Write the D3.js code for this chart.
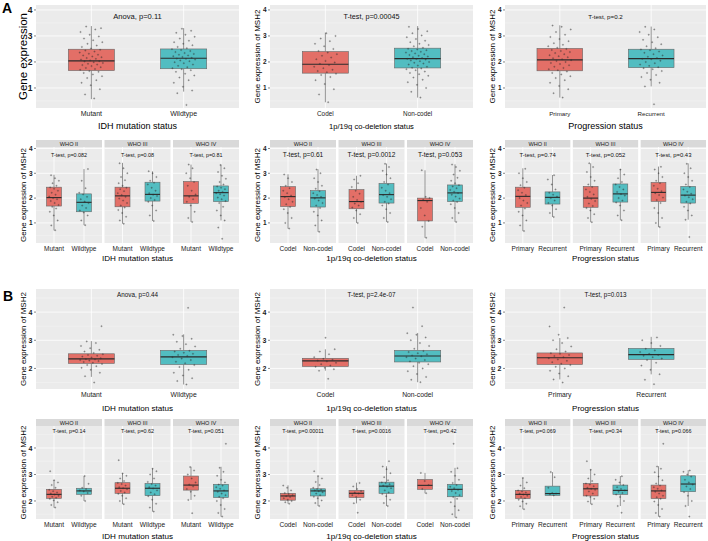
<!DOCTYPE html>
<html><head><meta charset="utf-8">
<script src="https://cdn.jsdelivr.net/npm/d3@7/dist/d3.min.js"></script>
<style>body{margin:0;background:#fff}svg{display:block}text{font-family:"Liberation Sans",Arial,sans-serif}</style>
</head><body><svg id="c" width="708" height="541"></svg>
<script>
// ---------- categories & labels ----------
const idhCats = ["Mutant", "Wildtype"];
const codelCats = ["Codel", "Non-codel"];
const progCats = ["Primary", "Recurrent"];
const whoGrades = ["WHO II", "WHO III", "WHO IV"];
const ticksA = [1, 2, 3, 4];
const ticksB = [2, 3, 4];

// ---------- box stats: [lower whisker, Q1, median, Q3, upper whisker] ----------
const A_idh_box = [[0.57, 1.67, 2.04, 2.49, 3.38], [0.86, 1.74, 2.14, 2.50, 3.30]];
const A_codel_box = [[0.45, 1.57, 1.91, 2.40, 3.13], [0.63, 1.77, 2.13, 2.53, 3.38]];
const A_prog_box = [[0.63, 1.66, 2.08, 2.52, 3.41], [1.06, 1.78, 2.13, 2.49, 3.36]];
const A_idhWho_box = [
  [[0.70, 1.68, 2.02, 2.44, 2.94], [0.91, 1.45, 1.83, 2.17, 3.17]],
  [[0.97, 1.65, 2.09, 2.44, 3.42], [1.08, 1.88, 2.15, 2.64, 3.08]],
  [[1.04, 1.79, 2.09, 2.67, 3.35], [1.10, 1.86, 2.22, 2.49, 3.35]]];
const A_codelWho_box = [
  [[0.77, 1.66, 2.06, 2.46, 2.96], [0.64, 1.64, 2.01, 2.30, 3.16]],
  [[1.00, 1.57, 1.86, 2.34, 2.90], [1.04, 1.80, 2.14, 2.59, 3.39]],
  [[0.40, 1.08, 1.90, 2.00, 3.12], [1.04, 1.86, 2.21, 2.53, 3.36]]];
const A_progWho_box = [
  [[0.67, 1.63, 2.07, 2.44, 3.20], [1.24, 1.76, 2.03, 2.25, 2.93]],
  [[1.03, 1.63, 2.00, 2.47, 3.40], [1.11, 1.84, 2.17, 2.57, 3.17]],
  [[0.83, 1.87, 2.23, 2.63, 3.27], [1.13, 1.80, 2.12, 2.47, 3.40]]];
const B_idh_box = [[1.70, 2.18, 2.34, 2.52, 2.97], [1.43, 2.14, 2.41, 2.64, 3.21]];
const B_codel_box = [[1.92, 2.07, 2.27, 2.36, 2.68], [1.51, 2.23, 2.44, 2.64, 3.26]];
const B_prog_box = [[1.61, 2.14, 2.38, 2.55, 3.08], [1.79, 2.32, 2.49, 2.71, 3.12]];
const B_idhWho_box = [
  [[1.75, 2.10, 2.25, 2.44, 2.79], [2.00, 2.25, 2.38, 2.48, 2.94]],
  [[1.88, 2.29, 2.48, 2.69, 3.04], [1.60, 2.20, 2.48, 2.66, 3.23]],
  [[2.04, 2.41, 2.60, 2.94, 3.29], [1.41, 2.13, 2.38, 2.63, 3.29]]];
const B_codelWho_box = [
  [[1.90, 2.03, 2.19, 2.29, 2.59], [1.81, 2.19, 2.38, 2.46, 2.94]],
  [[1.91, 2.13, 2.29, 2.40, 2.69], [1.81, 2.29, 2.56, 2.71, 3.31]],
  [[2.29, 2.44, 2.59, 2.81, 3.06], [1.38, 2.16, 2.44, 2.63, 3.25]]];
const B_progWho_box = [
  [[1.69, 2.09, 2.25, 2.40, 2.88], [2.21, 2.21, 2.28, 2.56, 3.09]],
  [[1.88, 2.19, 2.46, 2.66, 3.19], [1.81, 2.25, 2.40, 2.60, 2.94]],
  [[1.41, 2.09, 2.38, 2.60, 3.31], [1.81, 2.35, 2.64, 2.95, 3.16]]];

// ---------- individual sample values (read approximately) ----------
const A_idh_pts = [
  [0.6,0.75,0.95,1.1,1.2,1.3,1.38,1.45,1.52,1.58,1.62,1.65,1.7,1.73,1.77,1.8,1.84,1.88,1.9,1.93,1.96,1.99,2.02,2.03,2.06,2.09,2.12,2.15,2.18,2.21,2.25,2.28,2.32,2.36,2.4,2.44,2.47,2.52,2.58,2.63,2.7,2.76,2.83,2.9,2.98,3.05,3.15,3.25,3.36,3.3],
  [0.35,0.8,0.9,1.05,1.2,1.3,1.4,1.48,1.55,1.62,1.68,1.72,1.76,1.8,1.85,1.9,1.95,1.99,2.03,2.06,2.09,2.12,2.13,2.16,2.19,2.22,2.25,2.28,2.31,2.34,2.38,2.42,2.46,2.49,2.53,2.58,2.64,2.7,2.76,2.82,2.9,2.97,3.05,3.12,3.2,3.28]];
const A_codel_pts = [
  [0.45,0.75,0.95,1.15,1.3,1.42,1.5,1.55,1.6,1.65,1.7,1.76,1.82,1.88,1.93,1.98,2.04,2.1,2.17,2.24,2.3,2.36,2.42,2.5,2.6,2.7,2.8,2.9,3.0,3.1],
  [0.63,0.85,1.0,1.12,1.22,1.32,1.4,1.47,1.53,1.58,1.63,1.68,1.72,1.75,1.78,1.82,1.86,1.9,1.94,1.97,2.0,2.03,2.06,2.09,2.11,2.12,2.15,2.18,2.21,2.24,2.27,2.3,2.33,2.36,2.39,2.42,2.45,2.48,2.51,2.55,2.6,2.65,2.7,2.76,2.82,2.88,2.95,3.02,3.1,3.18,3.27,3.35]];
const A_prog_pts = [
  [0.63,0.8,0.95,1.08,1.2,1.3,1.38,1.45,1.52,1.58,1.63,1.68,1.72,1.77,1.82,1.87,1.92,1.96,2.0,2.04,2.07,2.1,2.14,2.18,2.22,2.26,2.3,2.34,2.38,2.42,2.46,2.5,2.55,2.6,2.66,2.72,2.8,2.88,2.96,3.05,3.15,3.25,3.35,3.4],
  [0.37,1.06,1.2,1.32,1.42,1.5,1.58,1.65,1.72,1.76,1.8,1.85,1.9,1.95,2.0,2.05,2.1,2.12,2.15,2.2,2.25,2.3,2.35,2.4,2.45,2.48,2.53,2.6,2.68,2.76,2.85,2.95,3.05,3.15,3.25,3.35]];
const A_idhWho_pts = [
  [[0.7,0.9,1.1,1.3,1.45,1.58,1.65,1.72,1.8,1.88,1.95,2.0,2.06,2.14,2.22,2.3,2.38,2.43,2.5,2.6,2.7,2.8,2.92],
   [0.91,1.1,1.3,1.42,1.5,1.6,1.7,1.8,1.86,1.95,2.05,2.15,2.22,2.4,2.7,3.17]],
  [[0.97,1.1,1.25,1.4,1.52,1.62,1.7,1.8,1.9,1.98,2.05,2.12,2.2,2.28,2.36,2.42,2.5,2.6,2.72,2.85,3.0,3.2,3.4],
   [1.08,1.3,1.5,1.7,1.85,1.92,2.0,2.08,2.14,2.2,2.3,2.42,2.55,2.62,2.7,2.85,3.0,3.08]],
  [[1.04,1.2,1.45,1.7,1.85,1.95,2.05,2.15,2.3,2.5,2.65,2.8,3.0,3.2,3.35],
   [0.36,0.81,1.1,1.3,1.5,1.65,1.8,1.88,1.95,2.02,2.1,2.16,2.2,2.25,2.3,2.36,2.42,2.47,2.55,2.65,2.78,2.9,3.05,3.2,3.33]]];
const A_codelWho_pts = [
  [[0.77,1.0,1.2,1.4,1.55,1.64,1.75,1.85,1.95,2.04,2.1,2.2,2.3,2.4,2.5,2.65,2.8,2.95],
   [0.64,0.9,1.1,1.3,1.45,1.6,1.7,1.8,1.9,1.98,2.05,2.12,2.2,2.28,2.38,2.5,2.65,2.8,3.0,3.15]],
  [[1.0,1.2,1.35,1.5,1.62,1.7,1.78,1.85,1.92,2.05,2.18,2.3,2.45,2.6,2.75,2.9],
   [1.04,1.2,1.4,1.55,1.7,1.78,1.85,1.95,2.05,2.12,2.2,2.3,2.42,2.55,2.65,2.8,2.95,3.1,3.25,3.38]],
  [[0.4,0.85,1.08,1.3,1.6,1.85,1.93,2.0,2.05,3.12],
   [1.04,1.2,1.4,1.6,1.75,1.84,1.9,1.98,2.06,2.14,2.2,2.26,2.33,2.4,2.47,2.52,2.6,2.7,2.82,2.95,3.1,3.25,3.35]]];
const A_progWho_pts = [
  [[0.67,0.9,1.1,1.3,1.45,1.58,1.7,1.8,1.9,2.0,2.12,2.22,2.32,2.42,2.52,2.65,2.8,3.0,3.18],
   [1.24,1.4,1.55,1.7,1.8,1.9,2.0,2.06,2.14,2.22,2.35,2.55,2.75,2.92]],
  [[1.03,1.2,1.35,1.5,1.6,1.68,1.78,1.88,1.97,2.05,2.15,2.25,2.35,2.45,2.55,2.7,2.85,3.05,3.25,3.4],
   [1.11,1.3,1.5,1.7,1.82,1.9,2.0,2.1,2.16,2.25,2.35,2.45,2.55,2.65,2.8,2.95,3.15]],
  [[0.83,1.0,1.2,1.4,1.6,1.8,1.92,2.02,2.12,2.2,2.28,2.38,2.5,2.6,2.7,2.85,3.0,3.15,3.26],
   [0.43,1.13,1.3,1.5,1.65,1.78,1.85,1.95,2.03,2.1,2.18,2.26,2.35,2.45,2.55,2.7,2.85,3.0,3.2,3.38]]];
const B_idh_pts = [
  [1.5,1.72,1.85,1.95,2.02,2.08,2.12,2.16,2.2,2.23,2.26,2.28,2.3,2.32,2.33,2.36,2.39,2.42,2.45,2.48,2.5,2.55,2.6,2.66,2.72,2.8,2.9,2.96,3.5],
  [1.43,1.55,1.65,1.75,1.85,1.95,2.05,2.12,2.18,2.24,2.3,2.35,2.4,2.44,2.48,2.52,2.56,2.6,2.63,2.7,2.78,2.86,2.95,3.05,3.15,3.2,4.15]];
const B_codel_pts = [
  [1.63,1.92,1.97,2.02,2.06,2.1,2.15,2.2,2.25,2.28,2.31,2.34,2.4,2.5,2.6,2.68,3.09],
  [1.51,1.6,1.7,1.8,1.9,2.0,2.08,2.15,2.2,2.25,2.3,2.35,2.4,2.43,2.46,2.5,2.54,2.58,2.62,2.7,2.8,2.9,3.0,3.1,3.2,3.25,3.5,4.16]];
const B_prog_pts = [
  [1.5,1.61,1.72,1.82,1.92,2.0,2.06,2.12,2.17,2.22,2.27,2.32,2.36,2.4,2.44,2.48,2.52,2.54,2.6,2.68,2.78,2.9,3.0,3.08,3.2,3.49,4.16],
  [1.44,1.6,1.79,1.95,2.1,2.2,2.3,2.35,2.4,2.45,2.48,2.52,2.58,2.64,2.7,2.8,2.9,3.0,3.1]];
const B_idhWho_pts = [
  [[1.75,1.85,1.95,2.02,2.08,2.12,2.16,2.2,2.24,2.28,2.32,2.37,2.42,2.5,2.6,2.7,2.78,3.12],
   [2.0,2.2,2.3,2.36,2.4,2.45,2.5,2.65,2.94]],
  [[1.88,2.0,2.1,2.2,2.27,2.32,2.38,2.44,2.48,2.52,2.58,2.64,2.68,2.75,2.85,2.95,3.04,3.54],
   [1.6,1.75,1.9,2.05,2.18,2.25,2.32,2.4,2.47,2.52,2.58,2.64,2.72,2.85,3.0,3.12,3.22]],
  [[1.54,2.04,2.2,2.35,2.45,2.55,2.62,2.7,2.85,3.0,3.15,3.28],
   [1.41,1.55,1.7,1.85,2.0,2.1,2.16,2.22,2.28,2.35,2.4,2.46,2.52,2.58,2.62,2.7,2.8,2.95,3.1,3.25,4.16]]];
const B_codelWho_pts = [
  [[1.9,1.95,2.0,2.05,2.1,2.15,2.18,2.22,2.26,2.3,2.4,2.5,2.58],
   [1.81,1.92,2.02,2.1,2.16,2.22,2.28,2.33,2.37,2.4,2.43,2.45,2.5,2.6,2.72,2.85,2.94,3.12]],
  [[1.56,1.91,2.05,2.15,2.22,2.28,2.32,2.38,2.45,2.55,2.68],
   [1.81,1.92,2.05,2.18,2.26,2.32,2.4,2.48,2.54,2.58,2.63,2.68,2.7,2.78,2.9,3.05,3.2,3.3,3.5]],
  [[2.29,2.45,2.6,2.75,3.06],
   [1.38,1.5,1.65,1.8,1.95,2.08,2.15,2.22,2.3,2.38,2.42,2.48,2.54,2.6,2.68,2.8,2.95,3.1,3.24,4.16]]];
const B_progWho_pts = [
  [[1.69,1.8,1.9,1.98,2.05,2.1,2.15,2.2,2.24,2.28,2.32,2.36,2.4,2.48,2.58,2.7,2.87],
   [2.21,2.25,2.28,2.3,2.5,2.9,3.09]],
  [[1.88,1.98,2.08,2.15,2.2,2.28,2.36,2.42,2.46,2.5,2.56,2.62,2.66,2.75,2.85,3.0,3.18,3.5],
   [1.56,1.81,2.0,2.15,2.24,2.3,2.35,2.4,2.45,2.52,2.6,2.7,2.8,2.93]],
  [[1.41,1.55,1.7,1.85,1.98,2.08,2.14,2.2,2.28,2.35,2.4,2.46,2.52,2.58,2.66,2.78,2.92,3.08,3.22,3.3,4.16],
   [1.41,1.81,2.0,2.2,2.33,2.45,2.55,2.62,2.7,2.8,2.92,3.0,3.1,3.15]]];

// ---------- statistic labels ----------
const A_top_stats = ["Anova, p=0.11", "T-test, p=0.00045", "T-test, p=0.2"];
const A_idhWho_stats = ["T-test, p=0.082", "T-test, p=0.08", "T-test, p=0.81"];
const A_codelWho_stats = ["T-test, p=0.61", "T-test, p=0.0012", "T-test, p=0.053"];
const A_progWho_stats = ["T-test, p=0.74", "T-test, p=0.052", "T-test, p=0.43"];
const B_top_stats = ["Anova, p=0.44", "T-test, p=2.4e-07", "T-test, p=0.013"];
const B_idhWho_stats = ["T-test, p=0.14", "T-test, p=0.62", "T-test, p=0.051"];
const B_codelWho_stats = ["T-test, p=0.00011", "T-test, p=0.0016", "T-test, p=0.42"];
const B_progWho_stats = ["T-test, p=0.069", "T-test, p=0.34", "T-test, p=0.066"];

const xTitles = ["IDH mutation status", "1p/19q co-deletion status", "Progression status"];
const groupColors = ["#E36F67", "#52BDC1"];

// ---------- drawing ----------
const svg = d3.select("#c");
const colX = [36, 270, 505];
const colW = [203, 203, 201];

function jit(i) { return ((i + 1) * 0.6180339887) % 1 - 0.5; }

function drawPanel(p) {
  const g = svg.append("g");
  const y = d3.scaleLinear().domain(p.domain).range([p.y0 + p.h, p.y0]);
  const nF = p.facets.length;
  const gap = nF > 1 ? 2.5 : 0;
  const fw = (p.w - gap * (nF - 1)) / nF;
  const minor = d3.range(Math.floor(p.domain[0]) + 0.5, p.domain[1], 1).filter(v => v > p.domain[0]);
  p.facets.forEach((f, fi) => {
    const fx = p.x0 + fi * (fw + gap);
    const x = d3.scalePoint().domain(p.cats).range([fx, fx + fw]).padding(0.6);
    const step = x.step();
    g.append("rect").attr("x", fx).attr("y", p.y0).attr("width", fw).attr("height", p.h).attr("fill", "#EBEBEB");
    g.selectAll(null).data(minor).join("line")
      .attr("x1", fx).attr("x2", fx + fw).attr("y1", d => y(d)).attr("y2", d => y(d))
      .attr("stroke", "#F7F7F7").attr("stroke-width", 0.4);
    g.selectAll(null).data(p.ticks).join("line")
      .attr("x1", fx).attr("x2", fx + fw).attr("y1", d => y(d)).attr("y2", d => y(d))
      .attr("stroke", "#fff").attr("stroke-width", 0.8);
    g.selectAll(null).data(p.cats).join("line")
      .attr("x1", d => x(d)).attr("x2", d => x(d)).attr("y1", p.y0).attr("y2", p.y0 + p.h)
      .attr("stroke", "#fff").attr("stroke-width", 0.8);
    if (f.strip) {
      g.append("rect").attr("x", fx).attr("y", p.y0 - p.stripH).attr("width", fw).attr("height", p.stripH).attr("fill", "#D9D9D9");
      g.append("text").attr("x", fx + fw / 2).attr("y", p.y0 - p.stripH / 2 + p.stripSize * 0.36)
        .attr("text-anchor", "middle").attr("font-size", p.stripSize).attr("fill", "#1A1A1A").text(f.strip);
    }
    p.cats.forEach((c, ci) => {
      const s = f.boxes[ci];
      const cx = x(c), bw = step * 0.5;
      g.append("line").attr("x1", cx).attr("x2", cx).attr("y1", y(s[0])).attr("y2", y(s[1])).attr("stroke", "#4D4D4D").attr("stroke-width", 0.6);
      g.append("line").attr("x1", cx).attr("x2", cx).attr("y1", y(s[3])).attr("y2", y(s[4])).attr("stroke", "#4D4D4D").attr("stroke-width", 0.6);
      g.append("rect").attr("x", cx - bw / 2).attr("y", y(s[3])).attr("width", bw).attr("height", y(s[1]) - y(s[3]))
        .attr("fill", groupColors[ci]).attr("stroke", "#666").attr("stroke-width", 0.6);
      g.append("line").attr("x1", cx - bw / 2).attr("x2", cx + bw / 2).attr("y1", y(s[2])).attr("y2", y(s[2]))
        .attr("stroke", "#2B2B2B").attr("stroke-width", 1.1);
    });
    p.cats.forEach((c, ci) => {
      const cx = x(c);
      g.selectAll(null).data(f.pts[ci]).join("circle")
        .attr("cx", (d, i) => cx + jit(i) * 2 * p.jw * step)
        .attr("cy", d => y(d)).attr("r", 0.75)
        .attr("fill", "#3A3A3A").attr("fill-opacity", 0.5).attr("stroke", "#222").attr("stroke-opacity", 0.45).attr("stroke-width", 0.3);
    });
    g.append("text").attr("x", fx + fw / 2).attr("y", p.statY).attr("text-anchor", "middle")
      .attr("font-size", p.statSize).attr("fill", "#111").text(f.stat);
    g.selectAll(null).data(p.cats).join("text")
      .attr("x", d => x(d)).attr("y", p.y0 + p.h + 2 + p.tickXSize * 0.9).attr("text-anchor", "middle")
      .attr("font-size", p.tickXSize).attr("fill", "#1A1A1A").text(d => d);
  });
  g.selectAll(null).data(p.ticks).join("line")
    .attr("x1", p.x0 - 2).attr("x2", p.x0).attr("y1", d => y(d)).attr("y2", d => y(d))
    .attr("stroke", "#333").attr("stroke-width", 0.6);
  g.selectAll(null).data(p.ticks).join("text")
    .attr("x", p.x0 - 3.5).attr("y", d => y(d) + p.tickYSize * 0.36).attr("text-anchor", "end")
    .attr("font-size", p.tickYSize).attr("font-weight", "bold").attr("fill", "#1A1A1A").text(d => d);
  const ty = p.y0 + p.h / 2;
  g.append("text").attr("transform", `translate(${p.x0 - 13 + p.yTitleSize * 0.36},${ty}) rotate(-90)`)
    .attr("text-anchor", "middle").attr("font-size", p.yTitleSize).attr("fill", "#000").text(p.yTitle);
  g.append("text").attr("x", p.x0 + p.w / 2).attr("y", p.xTitleY).attr("text-anchor", "middle")
    .attr("font-size", p.xTitleSize).attr("fill", "#000").text(p.xTitle);
}

const catsList = [idhCats, codelCats, progCats];
const yT = "Gene expression of MSH2";

// Row A top
const A_top_boxes = [A_idh_box, A_codel_box, A_prog_box];
const A_top_pts = [A_idh_pts, A_codel_pts, A_prog_pts];
const A_top_font = [
  { statSize: 7.6, tickXSize: 7, tickYSize: 8.5, xTitleSize: 9, yTitleSize: 11.5, yTitle: "Gene expression" },
  { statSize: 7.2, tickXSize: 6.4, tickYSize: 6.5, xTitleSize: 7.6, yTitleSize: 8, yTitle: yT },
  { statSize: 6.2, tickXSize: 6.2, tickYSize: 6.5, xTitleSize: 9, yTitleSize: 8, yTitle: yT }];
[0, 1, 2].forEach(k => drawPanel(Object.assign({
  x0: colX[k], w: colW[k], y0: 5, h: 103, domain: [0.23, 4.19], ticks: ticksA,
  cats: catsList[k], jw: 0.13, statY: 18.5, xTitleY: 129, xTitle: xTitles[k],
  facets: [{ boxes: A_top_boxes[k], pts: A_top_pts[k], stat: A_top_stats[k] }]
}, A_top_font[k])));

// Row A bottom (by WHO grade)
const A_who_boxes = [A_idhWho_box, A_codelWho_box, A_progWho_box];
const A_who_pts = [A_idhWho_pts, A_codelWho_pts, A_progWho_pts];
const A_who_stats = [A_idhWho_stats, A_codelWho_stats, A_progWho_stats];
const A_who_statSize = [5.4, 6.6, 5.9];
[0, 1, 2].forEach(k => drawPanel({
  x0: colX[k], w: colW[k], y0: 147, h: 96, domain: [0.19, 4.06], ticks: ticksA,
  cats: catsList[k], jw: 0.17, statY: 156.5, xTitleY: 260.5, xTitle: xTitles[k],
  stripH: 7, stripSize: 5.6, statSize: A_who_statSize[k], tickXSize: 6.5, tickYSize: 6.5,
  xTitleSize: 8.1, yTitleSize: 8, yTitle: yT,
  facets: whoGrades.map((wg, j) => ({ strip: wg, boxes: A_who_boxes[k][j], pts: A_who_pts[k][j], stat: A_who_stats[k][j] }))
}));

// Row B top
const B_top_boxes = [B_idh_box, B_codel_box, B_prog_box];
const B_top_pts = [B_idh_pts, B_codel_pts, B_prog_pts];
[0, 1, 2].forEach(k => drawPanel({
  x0: colX[k], w: colW[k], y0: 289, h: 100, domain: [1.27, 4.82], ticks: ticksB,
  cats: catsList[k], jw: 0.13, statY: 296.5, xTitleY: 410.5, xTitle: xTitles[k],
  statSize: 6.3, tickXSize: 6.8, tickYSize: 7, xTitleSize: 8.1, yTitleSize: 8, yTitle: yT,
  facets: [{ boxes: B_top_boxes[k], pts: B_top_pts[k], stat: B_top_stats[k] }]
}));

// Row B bottom (by WHO grade)
const B_who_boxes = [B_idhWho_box, B_codelWho_box, B_progWho_box];
const B_who_pts = [B_idhWho_pts, B_codelWho_pts, B_progWho_pts];
const B_who_stats = [B_idhWho_stats, B_codelWho_stats, B_progWho_stats];
[0, 1, 2].forEach(k => drawPanel({
  x0: colX[k], w: colW[k], y0: 426, h: 93, domain: [1.32, 4.83], ticks: ticksB,
  cats: catsList[k], jw: 0.17, statY: 432.5, xTitleY: 538.5, xTitle: xTitles[k],
  stripH: 7, stripSize: 5.6, statSize: 5.4, tickXSize: 6.6, tickYSize: 7,
  xTitleSize: 8.1, yTitleSize: 8, yTitle: yT,
  facets: whoGrades.map((wg, j) => ({ strip: wg, boxes: B_who_boxes[k][j], pts: B_who_pts[k][j], stat: B_who_stats[k][j] }))
}));

svg.append("text").attr("x", 2).attr("y", 13).attr("font-size", 14).attr("font-weight", "bold").text("A");
svg.append("text").attr("x", 3).attr("y", 301).attr("font-size", 14).attr("font-weight", "bold").text("B");
</script></body></html>
